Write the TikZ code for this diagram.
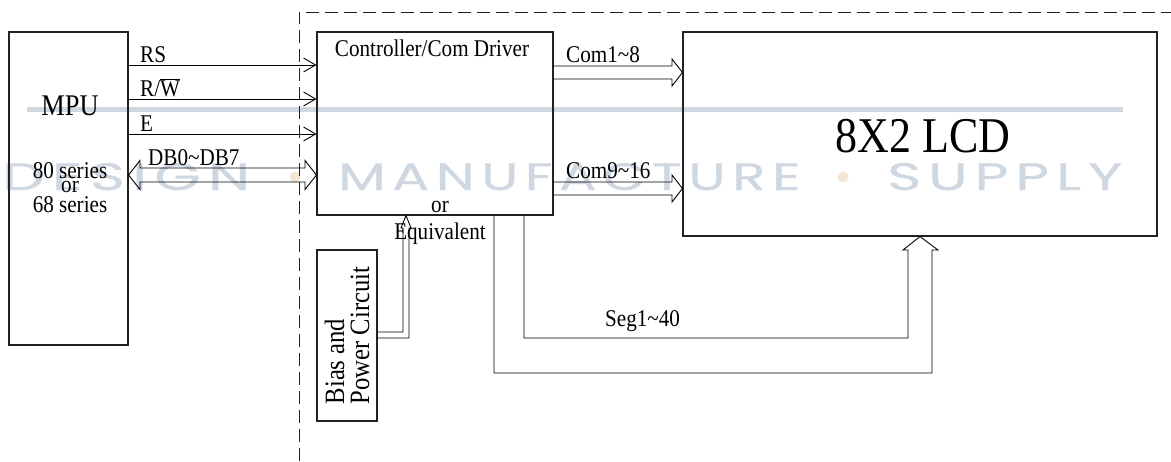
\documentclass[tikz,border=0pt]{standalone}
\usepackage{fontspec}
\setmainfont{Liberation Serif}[FakeStretch=0.88]
\newfontfamily\wmfont{Poppins}[LetterSpace=12,FakeBold=0.6]
\usetikzlibrary{arrows.meta}
\definecolor{wm}{HTML}{CFD8E1}
\definecolor{wmdot}{HTML}{F2E6D4}
\definecolor{ln}{HTML}{222222}
\tikzset{
  box/.style={draw=ln,line width=1.1pt,inner sep=0pt},
  lbl/.style={inner sep=0pt,font=\fontsize{24}{26}\selectfont},
  sig/.style={draw=black,line width=0.9pt,-{Straight Barb[length=12pt,width=14pt,line width=0.9pt]}},
  bus/.style={draw=black,line width=0.9pt,line join=miter},
  frame/.style={draw=ln,line width=0.9pt,dash pattern=on 13pt off 6pt},
  wmtext/.style={inner sep=0pt,text=wm,anchor=base west}
}
\begin{document}
\begin{tikzpicture}[x=1pt,y=-1pt]
\useasboundingbox (0,0) rectangle (1171,461);
% watermark
\fill[wm] (27,107) rectangle (1123,111.5);
\node[wmtext] (wm1) at (2,190) {\resizebox{248pt}{27pt}{\wmfont DESIGN}};
\node[wmtext] (wm2) at (338,190) {\resizebox{462pt}{27pt}{\wmfont MANUFACTURE}};
\node[wmtext] (wm3) at (887,190) {\resizebox{235pt}{27pt}{\wmfont SUPPLY}};
\fill[wmdot] (295,177) circle (5.5);
\fill[wmdot] (843,177) circle (5.5);

% dashed frame
\coordinate (fa) at (299,461);
\coordinate (fb) at (299,12);
\coordinate (fc) at (1171,12);
\draw[frame] (fa) -- (fb) -- (fc);

% boxes
\node[box,minimum width=119pt,minimum height=313pt] (mpu) at (68.5,188.5) {};
\node[box,minimum width=236pt,minimum height=183pt] (ctrl) at (435,123.5) {};
\node[box,minimum width=474pt,minimum height=204pt] (lcd) at (920,134) {};
\node[box,minimum width=60pt,minimum height=171pt] (bias) at (347,335.5) {};

% box texts
\node[inner sep=0pt,anchor=base,font=\fontsize{30}{32}\selectfont] (mputxt) at (70,115) {MPU};
\node[lbl,anchor=base] (s80) at (70,178) {80 series};
\node[lbl,anchor=base] (sor) at (70,192) {or};
\node[lbl,anchor=base] (s68) at (70,212) {68 series};
\node[lbl,anchor=base] (ctrltxt) at (432,56) {Controller/Com Driver};
\node[lbl,anchor=base] (ortxt) at (440,212) {or};
\node[lbl,anchor=base] (eqtxt) at (440,239) {Equivalent};
\node[inner sep=0pt,anchor=base,font=\fontsize{50}{52}\selectfont] (lcdtxt) at (923,152) {8X2 LCD};
\node[inner sep=0pt,rotate=90,align=left,font=\fontsize{28}{25}\selectfont] (biastxt) at (bias.center) {Bias and\\Power Circuit};

% signal labels
\node[lbl,anchor=base west] (lrs) at (140,62) {RS};
\node[lbl,anchor=base west] (lrw) at (140,96) {R/\ensuremath{\overline{\mbox{W}}}};
\node[lbl,anchor=base west] (le) at (140,131) {E};
\node[lbl,anchor=base west] (ldb) at (148,165) {DB0\textasciitilde DB7};
\node[lbl,anchor=base west] (lc1) at (566,62) {Com1\textasciitilde 8};
\node[lbl,anchor=base west] (lc9) at (566,178) {Com9\textasciitilde 16};
\node[lbl,anchor=base west] (lseg) at (605,326) {Seg1\textasciitilde 40};

% single signal arrows
\draw[sig] (mpu.east |- 0,65) -- (ctrl.west |- 0,65);
\draw[sig] (mpu.east |- 0,99) -- (ctrl.west |- 0,99);
\draw[sig] (mpu.east |- 0,134) -- (ctrl.west |- 0,134);

% data bus (double headed hollow arrow)
\draw[bus] (mpu.east |- 0,175) -- (140,160.5) -- (140,168) -- (305,168) -- (305,160.5)
  -- (ctrl.west |- 0,175) -- (305,189.5) -- (305,182) -- (140,182) -- (140,189.5) -- cycle;

% Com buses
\draw[bus] (ctrl.east |- 0,66) -- (672,66) -- (672,59) -- (lcd.west |- 0,72.5)
  -- (672,86) -- (672,79) -- (ctrl.east |- 0,79);
\draw[bus] (ctrl.east |- 0,182) -- (672,182) -- (672,175) -- (lcd.west |- 0,188.5)
  -- (672,202) -- (672,195) -- (ctrl.east |- 0,195);

% Seg bus
\draw[bus] (ctrl.south -| 524,0) -- (524,338) -- (908,338) -- (908,250) -- (903,250)
  -- (lcd.south -| 920,0) -- (938,250) -- (932,250) -- (932,373) -- (494,373) -- (ctrl.south -| 494,0);

% power bus
\draw[bus] (bias.east |- 0,332) -- (403,332) -- (403,228) -- (401,228) -- (ctrl.south -| 406,0)
  -- (411,228) -- (409,228) -- (409,338) -- (bias.east |- 0,338);
\end{tikzpicture}
\end{document}
